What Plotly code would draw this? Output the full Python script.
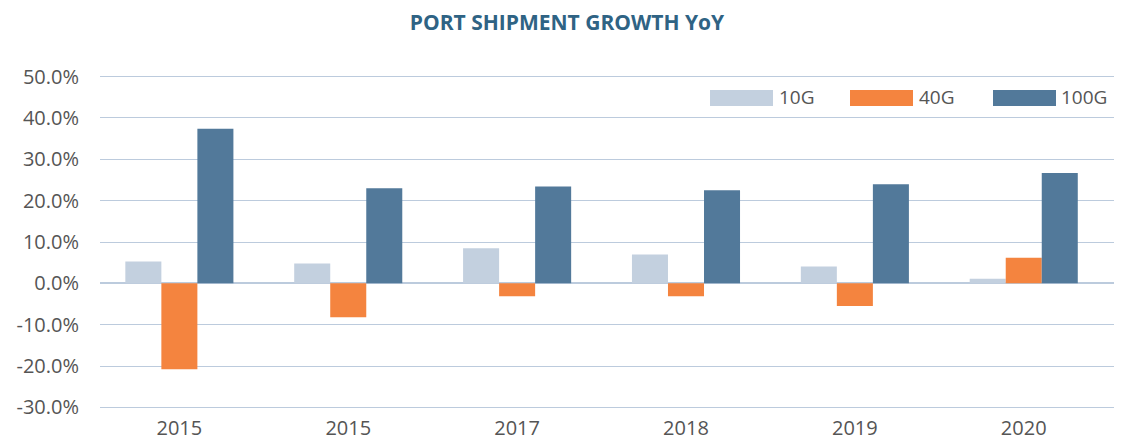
import plotly.graph_objects as go

categories = ["2015", "2015", "2017", "2018", "2019", "2020"]
series_names = ["10G", "40G", "100G"]
values_10g = [5.3, 4.8, 8.5, 7.0, 4.1, 1.1]
values_40g = [-20.8, -8.2, -3.1, -3.1, -5.5, 6.2]
values_100g = [37.4, 23.0, 23.4, 22.5, 24.0, 26.7]
y_ticks = [-30, -20, -10, 0, 10, 20, 30, 40, 50]
y_tick_labels = [f"{v:.1f}%" for v in y_ticks]

colors = ["#c3d0df", "#f4843f", "#52799a"]
positions = list(range(len(categories)))

fig = go.Figure()
for name, vals, col in zip(series_names, [values_10g, values_40g, values_100g], colors):
    fig.add_trace(go.Bar(x=positions, y=vals, name=name, marker=dict(color=col, line=dict(width=0)),
                         showlegend=False))

FONT = "Open Sans"
# page has an 8px body margin; figure sized to fit 1122x443 window
W, H = 1114, 435
ML, MR, MT, MB = 92, 2, 67, 34
plot_w = W - ML - MR
plot_h = H - MT - MB

def px_x(page_x):
    return (page_x - 8 - ML) / plot_w

def px_y(page_y):
    return (H - MB - (page_y - 8)) / plot_h

legend_items = [(710, 773, 780), (850, 913, 920), (993, 1056, 1062)]
shapes = []
annotations = []
for (x0, x1, xt), name, col in zip(legend_items, series_names, colors):
    shapes.append(dict(type="rect", xref="paper", yref="paper", x0=px_x(x0), x1=px_x(x1),
                       y0=px_y(106), y1=px_y(90),
                       fillcolor=col, line=dict(width=0), layer="above"))
    annotations.append(dict(xref="paper", yref="paper", x=px_x(xt - 3), y=px_y(97), xanchor="left",
                            yanchor="middle", text=name, showarrow=False,
                            font=dict(family=FONT, size=19, color="#555555")))

fig.update_layout(
    width=W, height=H,
    margin=dict(l=ML, r=MR, t=MT, b=MB, autoexpand=False),
    paper_bgcolor="white", plot_bgcolor="white",
    barmode="group", bargap=0.36, bargroupgap=0,
    title=dict(text="<b>PORT SHIPMENT GROWTH YoY</b>", x=(567 - 8) / W, xanchor="center",
               y=1 - (23 - 8) / H, yanchor="middle",
               font=dict(family=FONT, size=21, color="#2f6384")),
    shapes=shapes, annotations=annotations,
    xaxis=dict(tickmode="array", tickvals=positions, ticktext=categories, range=[-0.47, 5.57],
               showgrid=False, zeroline=False, showline=False, ticks="", ticklabelstandoff=5,
               automargin=False,
               tickfont=dict(family=FONT, size=20, color="#555555")),
    yaxis=dict(range=[-30.4, 50.4], tickmode="array", tickvals=y_ticks, ticktext=y_tick_labels,
               showgrid=True, gridcolor="#bccbdd", gridwidth=1.2,
               zeroline=True, zerolinecolor="#bccbdd", zerolinewidth=1.6,
               showline=False, ticks="", ticklabelstandoff=20, automargin=False,
               tickfont=dict(family=FONT, size=20, color="#555555")),
)

fig.write_html("out.html")
